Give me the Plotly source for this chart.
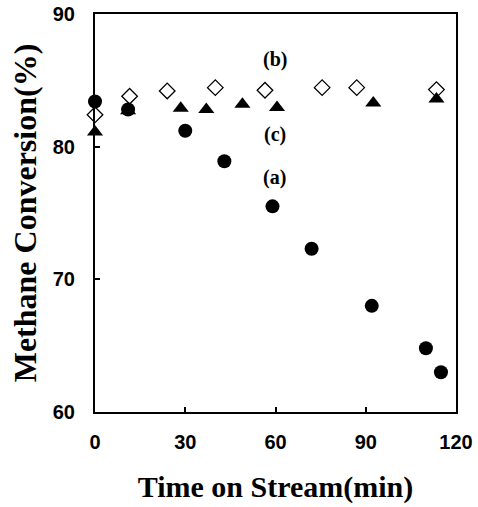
import plotly.graph_objects as go

# Series (a): filled circles
time_a = [0, 11, 30, 43, 59, 72, 92, 110, 115]
conv_a = [83.4, 82.8, 81.2, 78.9, 75.5, 72.3, 68.0, 64.8, 63.0]
# Series (b): open diamonds
time_b = [0, 11.5, 24, 40, 56.5, 75.5, 87, 113.5]
conv_b = [82.4, 83.8, 84.2, 84.45, 84.25, 84.45, 84.45, 84.3]
# Series (c): filled triangles
time_c = [0, 11, 28.5, 37, 49, 60.5, 92.5, 113.5]
conv_c = [81.1, 82.7, 82.9, 82.8, 83.2, 82.95, 83.3, 83.6]

x_ticks = [0, 30, 60, 90, 120]
y_ticks = [60, 70, 80, 90]

series_labels = ["(a)", "(b)", "(c)"]
label_x = [59.7, 59.7, 59.7]
label_y = [77.7, 86.6, 80.9]

fig = go.Figure()
fig.add_trace(go.Scatter(x=time_b, y=conv_b, mode="markers", name="(b)",
                         marker=dict(symbol="diamond-open", size=12, color="black",
                                     line=dict(width=1.3, color="black")),
                         cliponaxis=False))
fig.add_trace(go.Scatter(x=time_c, y=conv_c, mode="markers", name="(c)",
                         marker=dict(symbol="triangle-up", size=14, color="black"),
                         cliponaxis=False))
fig.add_trace(go.Scatter(x=time_a, y=conv_a, mode="markers", name="(a)",
                         marker=dict(symbol="circle", size=14, color="black"),
                         cliponaxis=False))

for t, xx, yy in zip(series_labels, label_x, label_y):
    fig.add_annotation(x=xx, y=yy, text=f"<b>{t}</b>", showarrow=False,
                       font=dict(family="Liberation Serif, Times New Roman, serif",
                                 size=20, color="black"))

tick_font = dict(family="Liberation Sans, Arial, sans-serif", size=20, color="black", weight="bold")
title_font = dict(family="Liberation Serif, Times New Roman, serif", color="black", weight="bold")

fig.update_layout(
    width=478, height=507,
    margin=dict(l=95, r=22, t=14, b=95),
    paper_bgcolor="white", plot_bgcolor="white",
    showlegend=False,
    xaxis=dict(range=[0, 120], tickvals=x_ticks, ticks="inside", ticklen=5, tickwidth=2,
               tickcolor="black", showline=True, linewidth=2, linecolor="black", mirror=True,
               showgrid=False, zeroline=False, tickfont=tick_font, ticklabelstandoff=11,
               automargin=False,
               title=dict(text="Time on Stream(min)", font=dict(size=30, **title_font), standoff=24)),
    yaxis=dict(range=[60, 90], tickvals=y_ticks, ticks="inside", ticklen=5, tickwidth=2,
               tickcolor="black", showline=True, linewidth=2, linecolor="black", mirror=True,
               showgrid=False, zeroline=False, tickfont=tick_font, ticklabelstandoff=14,
               automargin=False,
               title=dict(text="Methane Conversion(%)", font=dict(size=32, **title_font), standoff=7)),
)

fig.write_html("out.html", config={"displayModeBar": False},
               post_script="document.body.style.margin='0';document.body.style.overflow='hidden';")
